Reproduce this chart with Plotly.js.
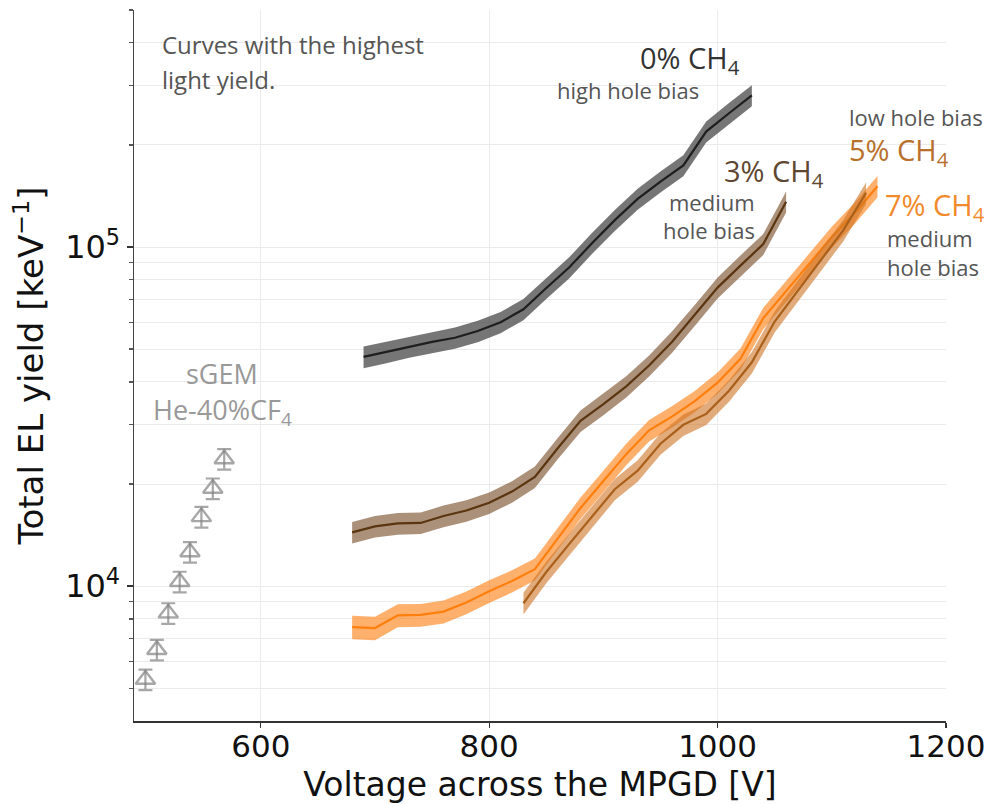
<!DOCTYPE html>
<html>
<head>
<meta charset="utf-8">
<script src="https://cdn.plot.ly/plotly-3.0.1.min.js"></script>
<style>html,body{margin:0;padding:0;background:#fff;}#chart{width:994px;height:804px;}</style>
</head>
<body>
<div id="chart"></div>
<script>
// ---- data ----
// 0% CH4, high hole bias
const v0 = [690,710,730,750,770,790,810,830,850,870,890,910,930,950,970,990,1010,1030];
const y0 = [47400,49000,50800,52500,54000,56500,60000,65500,75700,87000,102600,120000,138700,156000,174000,219000,248000,280000];
const e0 = [3500,3600,3700,3800,3900,4100,4300,4700,5400,6200,7300,8600,9900,11100,12400,15600,17700,20000];
// 3% CH4, medium hole bias
const v3 = [680,700,720,740,760,780,800,820,840,860,880,900,920,940,960,980,1000,1020,1040,1060];
const y3 = [14400,15000,15300,15350,16100,16700,17600,19000,21000,25500,30700,34400,38800,44700,52500,63000,75900,88100,102000,136000];
const e3 = [1050,1100,1120,1120,1180,1220,1280,1380,1530,1850,2230,2500,2800,3200,3800,4500,5400,6300,7300,9700];
// 7% CH4, medium hole bias
const v7 = [680,700,720,740,760,780,800,820,840,860,880,900,920,940,960,980,1000,1020,1040,1060,1080,1100,1120,1140];
const y7 = [7570,7520,8200,8220,8410,8950,9660,10350,11220,13800,17000,20400,24500,28800,31600,35100,39800,46800,61700,74100,89100,107000,126000,151000];
const e7 = [600,600,640,640,660,690,740,780,840,1010,1240,1480,1780,2090,2290,2540,2880,3390,4450,5350,6430,7700,9050,10850];
// 5% CH4, low hole bias
const v5 = [830,850,870,890,910,930,950,970,990,1010,1030,1050,1070,1090,1110,1130];
const y5 = [8900,11000,13300,16000,19300,21900,26300,29900,32200,37700,45700,60300,74100,91200,112000,144500];
const e5 = [650,800,970,1160,1400,1590,1910,2170,2340,2740,3320,4380,5390,6620,8140,10500];
// sGEM He-40%CF4
const vG = [499,509,519,529,538,548,558,568];
const yG = [5300,6490,8320,10300,12600,16000,19400,23700];
const eG = [370,450,580,720,880,1120,1360,1660];

const xTicks = [600,800,1000,1200];
const yTicks = [1e4,1e5];
const yTickText = ['10<sup>4</sup>','10<sup>5</sup>'];
const yMinor = [5000,6000,7000,8000,9000,20000,30000,40000,50000,60000,70000,80000,90000,200000,300000,400000,500000];

// ---- helpers ----
function band(x, y, e, fill){
  const xs = x.concat(x.slice().reverse());
  const up = y.map((v,i)=>v+e[i]);
  const lo = y.map((v,i)=>v-e[i]).reverse();
  return {x: xs, y: up.concat(lo), type:'scatter', mode:'lines', fill:'toself',
          fillcolor: fill, line:{width:0, color:'rgba(0,0,0,0)'}, hoverinfo:'skip', showlegend:false};
}
function line(x, y, color, w){
  return {x:x, y:y, type:'scatter', mode:'lines', line:{color:color, width:w}, showlegend:false};
}

const traces = [
  band(v0,y0,e0,'rgba(70,70,70,0.74)'), line(v0,y0,'#1e1e1e',2.2),
  band(v3,y3,e3,'rgba(120,78,40,0.62)'), line(v3,y3,'#5a3510',2.2),
  band(v7,y7,e7,'rgba(255,128,20,0.62)'), line(v7,y7,'#ff7f0e',2.2),
  band(v5,y5,e5,'rgba(205,115,35,0.6)'), line(v5,y5,'#a9601b',2.2),
  {x:vG, y:yG, type:'scatter', mode:'markers', showlegend:false,
   marker:{symbol:'triangle-up-open', size:17, color:'rgba(130,130,130,0.7)', line:{width:2.4, color:'rgba(130,130,130,0.7)'}},
   error_y:{type:'data', array:eG, visible:true, color:'rgba(130,130,130,0.7)', thickness:2.2, width:7}}
];

// pixel -> paper helpers for annotation placement
const L=134, R=48, T=10, B=83, W=994, H=804;
const px = p => (p-L)/(W-L-R);
const py = p => 1-(p-T)/(H-T-B);
function ann(text, x, y, size, color, xanchor){
  return {text:text, x:px(x), y:py(y), xref:'paper', yref:'paper', showarrow:false,
          xanchor:xanchor||'left', yanchor:'middle', font:{family:'Open Sans, sans-serif', size:size, color:color}};
}
const annotations = [
  ann('Curves with the highest', 160, 45, 24, '#555555'),
  ann('light yield.', 160, 80, 24, '#555555'),
  ann('0% CH<sub>4</sub>', 638, 59, 29, '#333333'),
  ann('high hole bias', 555, 90, 22, '#555555'),
  ann('3% CH<sub>4</sub>', 722, 173, 29, '#5e4630'),
  ann('medium', 757, 202, 22, '#555555', 'right'),
  ann('hole bias', 757, 230, 22, '#555555', 'right'),
  ann('low hole bias', 847, 117, 22, '#555555'),
  ann('5% CH<sub>4</sub>', 847, 152, 29, '#b8702c'),
  ann('7% CH<sub>4</sub>', 883, 206, 29, '#f28a2c'),
  ann('medium', 885, 238, 22, '#555555'),
  ann('hole bias', 885, 267, 22, '#555555'),
  ann('sGEM', 222, 373, 27, '#999999', 'center'),
  ann('He-40%CF<sub>4</sub>', 222, 411, 27, '#999999', 'center')
];

const tickFont = {family:'DejaVu Sans, sans-serif', size:31, color:'#111'};
const layout = {
  width:W, height:H, margin:{l:L, r:R, t:T, b:B, pad:0},
  paper_bgcolor:'#ffffff', plot_bgcolor:'#ffffff', showlegend:false,
  font:{family:'DejaVu Sans, sans-serif'},
  xaxis:{range:[489,1200], tickmode:'array', tickvals:xTicks, ticks:'outside', ticklen:5, tickwidth:1.2, tickcolor:'#333',
         showline:true, linecolor:'#333', linewidth:1.5, showgrid:true, gridcolor:'#ebebeb', gridwidth:1, zeroline:false,
         tickfont:tickFont, automargin:false, ticklabelstandoff:-8,
         title:{text:'Voltage across the MPGD [V]', font:{family:'DejaVu Sans, sans-serif', size:33, color:'#111'}, standoff:10}},
  yaxis:{type:'log', range:[Math.log10(4000), Math.log10(500000)], tickmode:'array', tickvals:yTicks, ticktext:yTickText,
         ticks:'outside', ticklen:6, tickwidth:1.2, tickcolor:'#333',
         showline:true, linecolor:'#444', linewidth:1.5, showgrid:true, gridcolor:'#ebebeb', gridwidth:1, zeroline:false,
         tickfont:{family:'DejaVu Sans, sans-serif', size:32, color:'#111'}, automargin:false,
         minor:{tickmode:'array', tickvals:yMinor, ticks:'outside', ticklen:4, tickcolor:'#555', showgrid:true, gridcolor:'#ebebeb', gridwidth:1},
         title:{text:'Total EL yield [keV<sup>\u22121</sup>]', font:{family:'DejaVu Sans, sans-serif', size:34, color:'#111'}, standoff:11}},
  annotations:annotations
};
Plotly.newPlot('chart', traces, layout, {staticPlot:true, displayModeBar:false});
</script>
</body>
</html>
